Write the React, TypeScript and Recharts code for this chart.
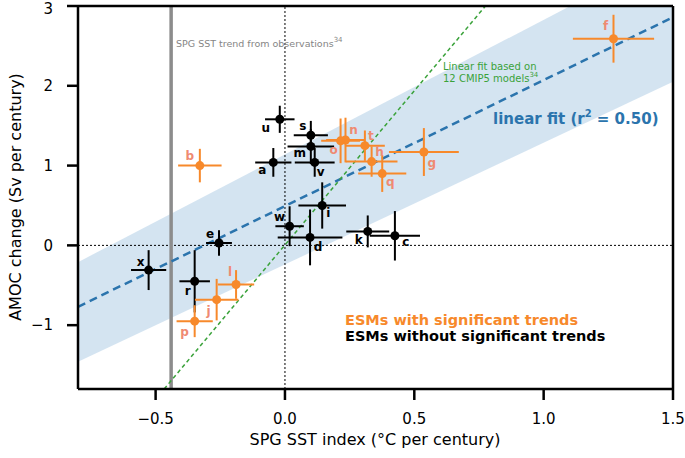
import React from 'react';
import { Area, ComposedChart, ErrorBar, Line, ReferenceLine, Scatter, XAxis, YAxis } from 'recharts';

// ESMs with significant trends (orange)
const SIG_NAMES = ['b', 'f', 'g', 'h', 'j', 'l', 'n', 'o', 'p', 'q', 't'];
const SIG_X = [-0.329, 1.27, 0.537, 0.335, -0.264, -0.189, 0.234, 0.215, -0.349, 0.376, 0.309];
const SIG_Y = [1.0, 2.59, 1.17, 1.05, -0.68, -0.49, 1.32, 1.31, -0.95, 0.9, 1.25];
const SIG_XERR = [0.084, 0.157, 0.135, 0.1, 0.084, 0.07, 0.075, 0.075, 0.07, 0.093, 0.077];
const SIG_YERR = [0.21, 0.3, 0.3, 0.19, 0.26, 0.18, 0.28, 0.28, 0.2, 0.23, 0.19];

// ESMs without significant trends (black)
const NONSIG_NAMES = ['a', 'c', 'd', 'e', 'i', 'k', 'm', 'r', 's', 'u', 'v', 'w', 'x'];
const NONSIG_X = [-0.045, 0.425, 0.097, -0.255, 0.144, 0.32, 0.1, -0.349, 0.1, -0.02, 0.115, 0.018, -0.527];
const NONSIG_Y = [1.04, 0.12, 0.1, 0.03, 0.5, 0.175, 1.24, -0.45, 1.38, 1.58, 1.04, 0.24, -0.31];
const NONSIG_XERR = [0.07, 0.097, 0.125, 0.05, 0.092, 0.083, 0.09, 0.059, 0.066, 0.057, 0.077, 0.055, 0.068];
const NONSIG_YERR = [0.18, 0.31, 0.35, 0.16, 0.29, 0.2, 0.22, 0.39, 0.18, 0.17, 0.18, 0.25, 0.25];

// regression line and its band
const FIT_X = [-0.8, 1.5];
const FIT_Y = [-0.77, 2.86];
const BAND_LOW = [-1.46, 2.05];
const BAND_HIGH = [-0.21, 3.67];

// CMIP5 fit and observed trend
const CMIP_X = [-0.467, 0.775];
const CMIP_Y = [-1.8, 3];
const OBS_TREND = -0.44;

const X_TICKS = [-0.5, 0, 0.5, 1, 1.5];
const Y_TICKS = [-1, 0, 1, 2, 3];

// label offsets (px) relative to each point
const LABEL_OFFSET: Record<string, [number, number]> = {
  u: [-14, 9], s: [-8, -9], m: [-11, 7], v: [6, 10], a: [-11, 8], w: [-10, -9],
  i: [6, 8], d: [8, 10], k: [-9, 9], c: [11, 6], e: [-9, -9], x: [-8, -8], r: [-7, 10],
  b: [-10, -10], l: [-6, -12], j: [-8, 11], p: [-10, 11], o: [-7, 9], n: [8, -10],
  t: [6, -10], h: [8, -10], q: [8, 8], g: [8, 11], f: [-8, -13],
};

const ORANGE = '#f7892b';
const ORANGE_LABEL = '#ef8a72';
const BLUE = '#2b74ad';
const GREEN = '#3aa23a';
const FONT = 'DejaVu Sans';

const toPoints = (names: string[], xs: number[], ys: number[], ex: number[], ey: number[]) =>
  names.map((name, i) => ({ name, x: xs[i], y: ys[i], ex: ex[i], ey: ey[i] }));

const sigData = toPoints(SIG_NAMES, SIG_X, SIG_Y, SIG_XERR, SIG_YERR);
const nonsigData = toPoints(NONSIG_NAMES, NONSIG_X, NONSIG_Y, NONSIG_XERR, NONSIG_YERR);
const lineData = FIT_X.map((x, i) => ({ x, fit: FIT_Y[i], band: [BAND_LOW[i], BAND_HIGH[i]] }));

const minus = (s: string) => s.replace('-', '\u2212');

const makeShape = (fill: string, labelFill: string) => (props: any) => {
  const { cx, cy, payload } = props;
  const [dx, dy] = LABEL_OFFSET[payload.name] || [8, 8];
  return (
    <g>
      <circle cx={cx} cy={cy} r={4.5} fill={fill} />
      <text
        x={cx + dx}
        y={cy + dy}
        fill={labelFill}
        fontSize={12}
        fontWeight="bold"
        fontFamily={FONT}
        textAnchor="middle"
        dominantBaseline="central"
      >
        {payload.name}
      </text>
    </g>
  );
};

export default function App() {
  const axisStyle = { stroke: '#000', strokeWidth: 2.5 };
  return (
    <div style={{ position: 'absolute', left: 0, top: 0, width: 685, height: 458, background: '#fff' }}>
      <ComposedChart width={685} height={458} data={lineData} margin={{ top: 6, right: 12, bottom: 0, left: 0 }}>
        <XAxis
          dataKey="x"
          type="number"
          domain={[-0.8, 1.5]}
          ticks={X_TICKS}
          allowDataOverflow
          height={69}
          tickSize={11}
          tickMargin={13}
          axisLine={axisStyle}
          tickLine={axisStyle}
          tick={{ fill: '#000', fontSize: 15, fontFamily: FONT }}
          tickFormatter={(v: number) => minus(v.toFixed(1))}
        />
        <YAxis
          dataKey="y"
          type="number"
          domain={[-1.8, 3]}
          ticks={Y_TICKS}
          allowDataOverflow
          width={78}
          tickSize={11}
          tickMargin={14}
          axisLine={axisStyle}
          tickLine={axisStyle}
          tick={{ fill: '#000', fontSize: 15, fontFamily: FONT }}
          tickFormatter={(v: number) => minus(String(v))}
        />
        <Area
          dataKey="band"
          type="linear"
          fill="#cfe1f0"
          fillOpacity={0.9}
          stroke="none"
          isAnimationActive={false}
        />
        <ReferenceLine x={0} stroke="#000" strokeWidth={1} strokeDasharray="2 2" />
        <ReferenceLine y={0} stroke="#000" strokeWidth={1} strokeDasharray="2 2" />
        <ReferenceLine x={OBS_TREND} stroke="#8c8c8c" strokeWidth={3.5} />
        <Line
          dataKey="fit"
          type="linear"
          stroke={BLUE}
          strokeWidth={2.5}
          strokeDasharray="8 5"
          dot={false}
          isAnimationActive={false}
        />
        <ReferenceLine
          segment={[
            { x: CMIP_X[0], y: CMIP_Y[0] },
            { x: CMIP_X[1], y: CMIP_Y[1] },
          ]}
          stroke={GREEN}
          strokeWidth={1.5}
          strokeDasharray="4 3"
        />
        <Scatter data={nonsigData} shape={makeShape('#000', '#000')} isAnimationActive={false}>
          <ErrorBar dataKey="ex" direction="x" width={0} stroke="#000" strokeWidth={2} isAnimationActive={false} />
          <ErrorBar dataKey="ey" direction="y" width={0} stroke="#000" strokeWidth={2} isAnimationActive={false} />
        </Scatter>
        <Scatter data={sigData} shape={makeShape(ORANGE, ORANGE_LABEL)} isAnimationActive={false}>
          <ErrorBar dataKey="ex" direction="x" width={0} stroke={ORANGE} strokeWidth={2} isAnimationActive={false} />
          <ErrorBar dataKey="ey" direction="y" width={0} stroke={ORANGE} strokeWidth={2} isAnimationActive={false} />
        </Scatter>
        <ReferenceLine y={3} stroke="#000" strokeWidth={2.5} />
        <ReferenceLine x={1.5} stroke="#000" strokeWidth={2.5} />
      </ComposedChart>
      <svg
        width={685}
        height={458}
        style={{ position: 'absolute', left: 0, top: 0, pointerEvents: 'none' }}
        fontFamily={FONT}
      >
        <text x={15} y={197} fontSize={16} textAnchor="middle" dominantBaseline="central" transform="rotate(-90 15 197)">
          AMOC change (Sv per century)
        </text>
        <text x={375} y={439} fontSize={16} textAnchor="middle" dominantBaseline="central">
          SPG SST index (°C per century)
        </text>
        <text x={176} y={43} fontSize={9.5} fill="#858585" dominantBaseline="central">
          SPG SST trend from observations
          <tspan fontSize={7} dy={-3}>34</tspan>
        </text>
        <text x={443} y={66} fontSize={10} fill={GREEN} dominantBaseline="central">
          Linear fit based on
        </text>
        <text x={443} y={78} fontSize={10} fill={GREEN} dominantBaseline="central">
          12 CMIP5 models
          <tspan fontSize={7} dy={-3}>34</tspan>
        </text>
        <text x={493} y={119} fontSize={15} fontWeight="bold" fill={BLUE} dominantBaseline="central">
          linear fit (r<tspan fontSize={10} dy={-6}>2</tspan>
          <tspan dy={6}> = 0.50)</tspan>
        </text>
        <text x={345} y={320} fontSize={14.5} fontWeight="bold" fill={ORANGE} dominantBaseline="central">
          ESMs with significant trends
        </text>
        <text x={345} y={336} fontSize={14.5} fontWeight="bold" fill="#000" dominantBaseline="central">
          ESMs without significant trends
        </text>
      </svg>
    </div>
  );
}
